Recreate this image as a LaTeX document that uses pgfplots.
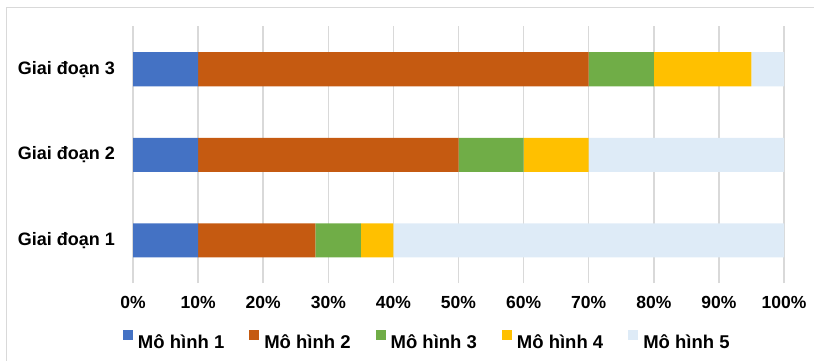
\documentclass[border=0pt]{standalone}
\usepackage{pgfplots}
\pgfplotsset{compat=1.18}
\usepackage{fontspec}
\setmainfont{Liberation Sans}
\definecolor{cA}{HTML}{4472C4}
\definecolor{cB}{HTML}{C55A11}
\definecolor{cC}{HTML}{70AD47}
\definecolor{cD}{HTML}{FFC000}
\definecolor{cE}{HTML}{DEEBF7}
\definecolor{gridc}{HTML}{D9D9D9}
\begin{document}
\begin{tikzpicture}[x=1bp,y=1bp]
\path[use as bounding box] (0,0) rectangle (814,360);
\begin{scope}
\clip (0,0) rectangle (814,360);
\draw[color=gridc, line width=1.5bp] (6.5,-20) -- (6.5,352.5) -- (840,352.5);
\end{scope}
\begin{axis}[
  at={(133bp,77bp)}, anchor=south west,
  scale only axis, width=651bp, height=256.5bp,
  xbar stacked, bar width=34bp,
  xmin=0, xmax=100, ymin=0.5, ymax=3.5,
  axis line style={draw=none},
  xmajorgrids, grid style={color=gridc, line width=1.5bp},
  major tick length=0pt,
  xtick={0,10,...,100},
  xticklabels={0\%,10\%,20\%,30\%,40\%,50\%,60\%,70\%,80\%,90\%,100\%},
  ytick={1,2,3},
  yticklabels={Giai đoạn 1,Giai đoạn 2,Giai đoạn 3},
  xticklabel style={inner sep=0pt, yshift=-13bp, font=\fontsize{17.5bp}{20bp}\selectfont\bfseries, text=black},
  yticklabel style={inner sep=0pt, xshift=-18bp, font=\fontsize{18bp}{21bp}\selectfont\bfseries, text=black},
  legend columns=-1,
  legend image code/.code={\fill[#1,draw=none] (0bp,1.5bp) rectangle (10bp,11.5bp);},
  legend style={draw=none, fill=none, inner sep=0pt, outer sep=0pt,
    at={(axis description cs:-0.0154,-0.222)}, anchor=west,
    nodes={inner sep=0pt, font=\fontsize{18.5bp}{21bp}\selectfont\bfseries, text=black},
    column sep=5bp,
    /tikz/every even column/.append style={column sep=25bp}},
]
\addplot[fill=cA, draw=none] coordinates {(10,1) (10,2) (10,3)};
\addplot[fill=cB, draw=none] coordinates {(18,1) (40,2) (60,3)};
\addplot[fill=cC, draw=none] coordinates {(7,1) (10,2) (10,3)};
\addplot[fill=cD, draw=none] coordinates {(5,1) (10,2) (15,3)};
\addplot[fill=cE, draw=none] coordinates {(60,1) (30,2) (5,3)};
\legend{Mô hình 1,Mô hình 2,Mô hình 3,Mô hình 4,Mô hình 5}
\end{axis}
\end{tikzpicture}
\end{document}
